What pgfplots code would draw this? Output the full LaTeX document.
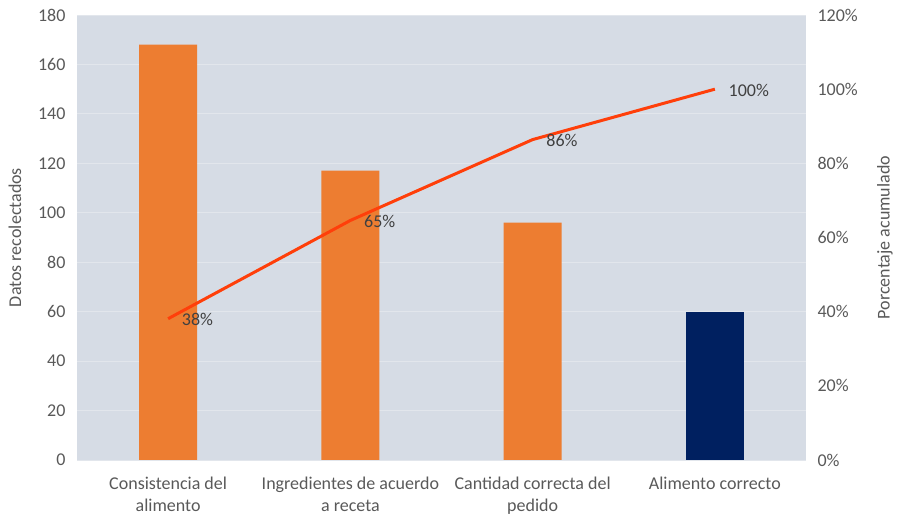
\documentclass[border=0pt]{standalone}
\usepackage{pgfplots}
\pgfplotsset{compat=1.18}
\usepackage{fontspec}
\setmainfont{Carlito}
\definecolor{bgc}{HTML}{D6DCE5}
\definecolor{gridc}{HTML}{E2E6EC}
\definecolor{orng}{HTML}{ED7D31}
\definecolor{navy}{HTML}{002060}
\definecolor{linec}{HTML}{FF3F0A}
\definecolor{tickc}{HTML}{595959}
\definecolor{lblc}{HTML}{404040}
\begin{document}
\begin{tikzpicture}[font=\fontsize{18bp}{22bp}\selectfont]
\pgfplotsset{
  common/.style={
    scale only axis, width=729bp, height=445bp,
    xmin=-0.5, xmax=3.5,
    axis line style={draw=none},
    major tick length=0pt,
    tick label style={text=tickc, font=\fontsize{18bp}{22bp}\selectfont},
    /pgf/number format/assume math mode=true,
  }
}
\begin{axis}[common, name=main,
  axis background/.style={fill=bgc},
  ymin=0, ymax=180, ytick={0,20,...,180},
  ymajorgrids, grid style={gridc, line width=0.8bp},
  xtick={0,1,2,3},
  xticklabels={Consistencia del\\alimento, Ingredientes de acuerdo\\a receta, Cantidad correcta del\\pedido, Alimento correcto},
  xticklabel style={align=center, anchor=north, yshift=-13bp},
  yticklabel style={xshift=-8bp},
  ylabel={Datos recolectados},
  every axis y label/.style={at={(rel axis cs:0,0.5)}, xshift=-62bp, rotate=90, anchor=center, text=tickc, font=\fontsize{18bp}{22bp}\selectfont},
  ybar, bar width=58bp,
]
\addplot[draw=none, fill=orng, bar shift=0pt] coordinates {(0,168) (1,117) (2,96)};
\addplot[draw=none, fill=navy, bar shift=0pt] coordinates {(3,60)};
\end{axis}
\begin{axis}[common,
  axis y line*=right, axis x line=none,
  ymin=0, ymax=120, ytick={0,20,...,120},
  yticklabel={\pgfmathprintnumber{\tick}\%},
  yticklabel style={xshift=8bp},
  ylabel={Porcentaje acumulado},
  every axis y label/.style={at={(rel axis cs:1,0.5)}, xshift=79bp, rotate=90, anchor=center, text=tickc, font=\fontsize{18bp}{22bp}\selectfont},
  xtick=\empty,
]
\addplot[linec, line width=3bp, mark=none,
  nodes near coords={\pgfmathprintnumber[fixed,precision=0]{\pgfplotspointmeta}\%},
  point meta=y,
  every node near coord/.append style={text=lblc, anchor=west, xshift=9bp, yshift=-1bp, font=\fontsize{18bp}{22bp}\selectfont}]
  coordinates {(0,38.1) (1,64.6) (2,86.4) (3,100)};
\end{axis}
\pgfresetboundingbox
\path (main.south west) ++(-77bp,-57bp) rectangle ++(897bp,517bp);
\end{tikzpicture}
\end{document}
